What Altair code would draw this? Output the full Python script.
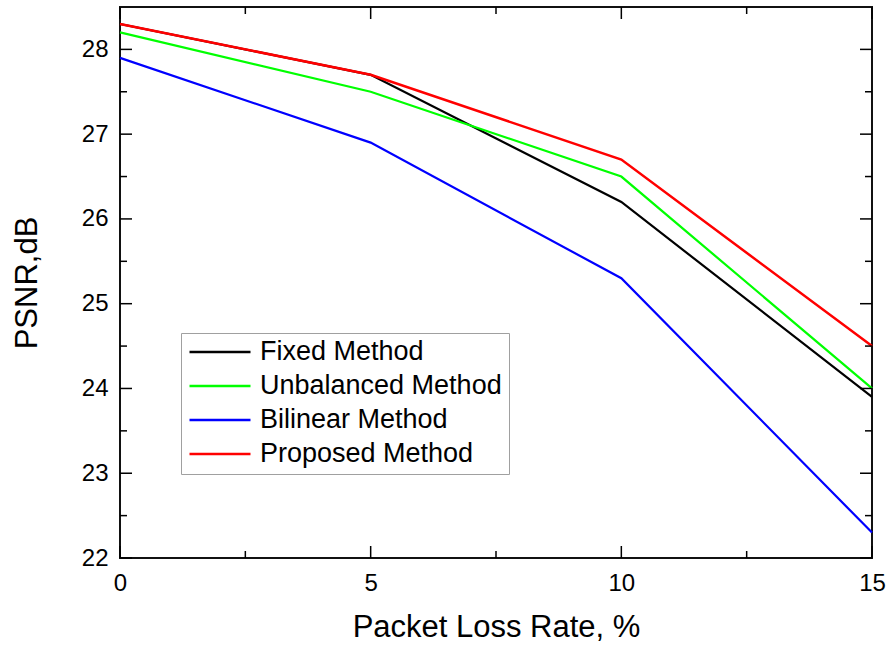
import altair as alt
import pandas as pd

# ---- data ----
loss_rate = [0, 5, 10, 15]
series_names = ["Fixed Method", "Unbalanced Method", "Bilinear Method", "Proposed Method"]
series_colors = ["#000000", "#00ff00", "#0000ff", "#ff0000"]
fixed = [28.3, 27.7, 26.2, 23.9]
unbalanced = [28.2, 27.5, 26.5, 24.0]
bilinear = [27.9, 26.9, 25.3, 22.3]
proposed = [28.3, 27.7, 26.7, 24.5]

x_major = [0, 5, 10, 15]
x_minor = [2.5, 7.5, 12.5]
y_major = [22, 23, 24, 25, 26, 27, 28]
y_minor = [22.5, 23.5, 24.5, 25.5, 26.5, 27.5]

W, H = 752, 551
FONT = "Liberation Sans"

rows = []
for name, vals in zip(series_names, [fixed, unbalanced, bilinear, proposed]):
    for xv, yv in zip(loss_rate, vals):
        rows.append({"rate": xv, "psnr": yv, "method": name})
df = pd.DataFrame(rows)

xscale = alt.Scale(domain=[0, 15], nice=False)
yscale = alt.Scale(domain=[22, 28.5], nice=False)
cscale = alt.Scale(domain=series_names, range=series_colors)

xaxis = alt.Axis(title="Packet Loss Rate, %", values=x_major, ticks=False, format="d",
                 domain=False, grid=False, labelFontSize=24, labelFont=FONT,
                 labelColor="black", labelPadding=13, labelFlush=False, titleFont=FONT,
                 titleFontSize=31, titleFontWeight="normal", titleColor="black",
                 titlePadding=17)
yaxis = alt.Axis(title="PSNR,dB", values=y_major, ticks=False, domain=False, format="d",
                 grid=False, labelFontSize=24, labelFont=FONT, labelColor="black",
                 labelPadding=12, labelFlush=False, titleFont=FONT, titleFontSize=31,
                 titleFontWeight="normal", titleColor="black", titlePadding=38)
legend = alt.Legend(title=None, orient="none", legendX=61, legendY=326,
                    symbolType="stroke", symbolSize=3721,
                    symbolStrokeWidth=2.5, clipHeight=24,
                    rowPadding=7, padding=7, labelOffset=8,
                    labelFont=FONT, labelFontSize=27, labelColor="black",
                    strokeColor="#a0a0a0", fillColor="white",
                    labelLimit=400)

# later layers are drawn on top: "Proposed Method" last so it covers "Fixed Method"
line_layers = []
for name in series_names:
    sw = 2.5 if name == "Proposed Method" else 2.2
    line_layers.append(
        alt.Chart(df).transform_filter(alt.datum.method == name).mark_line(strokeWidth=sw).encode(
            x=alt.X("rate:Q", scale=xscale, axis=xaxis),
            y=alt.Y("psnr:Q", scale=yscale, axis=yaxis),
            color=alt.Color("method:N", scale=cscale, legend=legend),
        )
    )


def xticks(vals, length, top):
    d = pd.DataFrame({"v": vals})
    if top:
        y, y2 = 0, length
    else:
        y, y2 = H, H - length
    return alt.Chart(d).mark_rule(color="black", strokeWidth=1.5).encode(
        x=alt.X("v:Q", scale=xscale, axis=xaxis), y=alt.value(y), y2=alt.value(y2))


def yticks(vals, length, right):
    d = pd.DataFrame({"v": vals})
    if right:
        x, x2 = W, W - length
    else:
        x, x2 = 0, length
    return alt.Chart(d).mark_rule(color="black", strokeWidth=1.5).encode(
        y=alt.Y("v:Q", scale=yscale, axis=yaxis), x=alt.value(x), x2=alt.value(x2))


ticks = [
    xticks(x_major, 12, False), xticks(x_minor, 7, False),
    xticks(x_major, 12, True), xticks(x_minor, 7, True),
    yticks(y_major, 12, False), yticks(y_minor, 7, False),
    yticks(y_major, 12, True), yticks(y_minor, 7, True),
]

chart = alt.layer(*line_layers, *ticks).properties(
    width=W, height=H,
    padding={"left": 120, "top": 7, "right": 16, "bottom": 93},
    autosize=alt.AutoSizeParams(type="none"),
    background="white",
).configure_view(stroke="#111111", strokeWidth=2)

chart.save("out.html", embed_options={"renderer": "svg", "actions": False})
